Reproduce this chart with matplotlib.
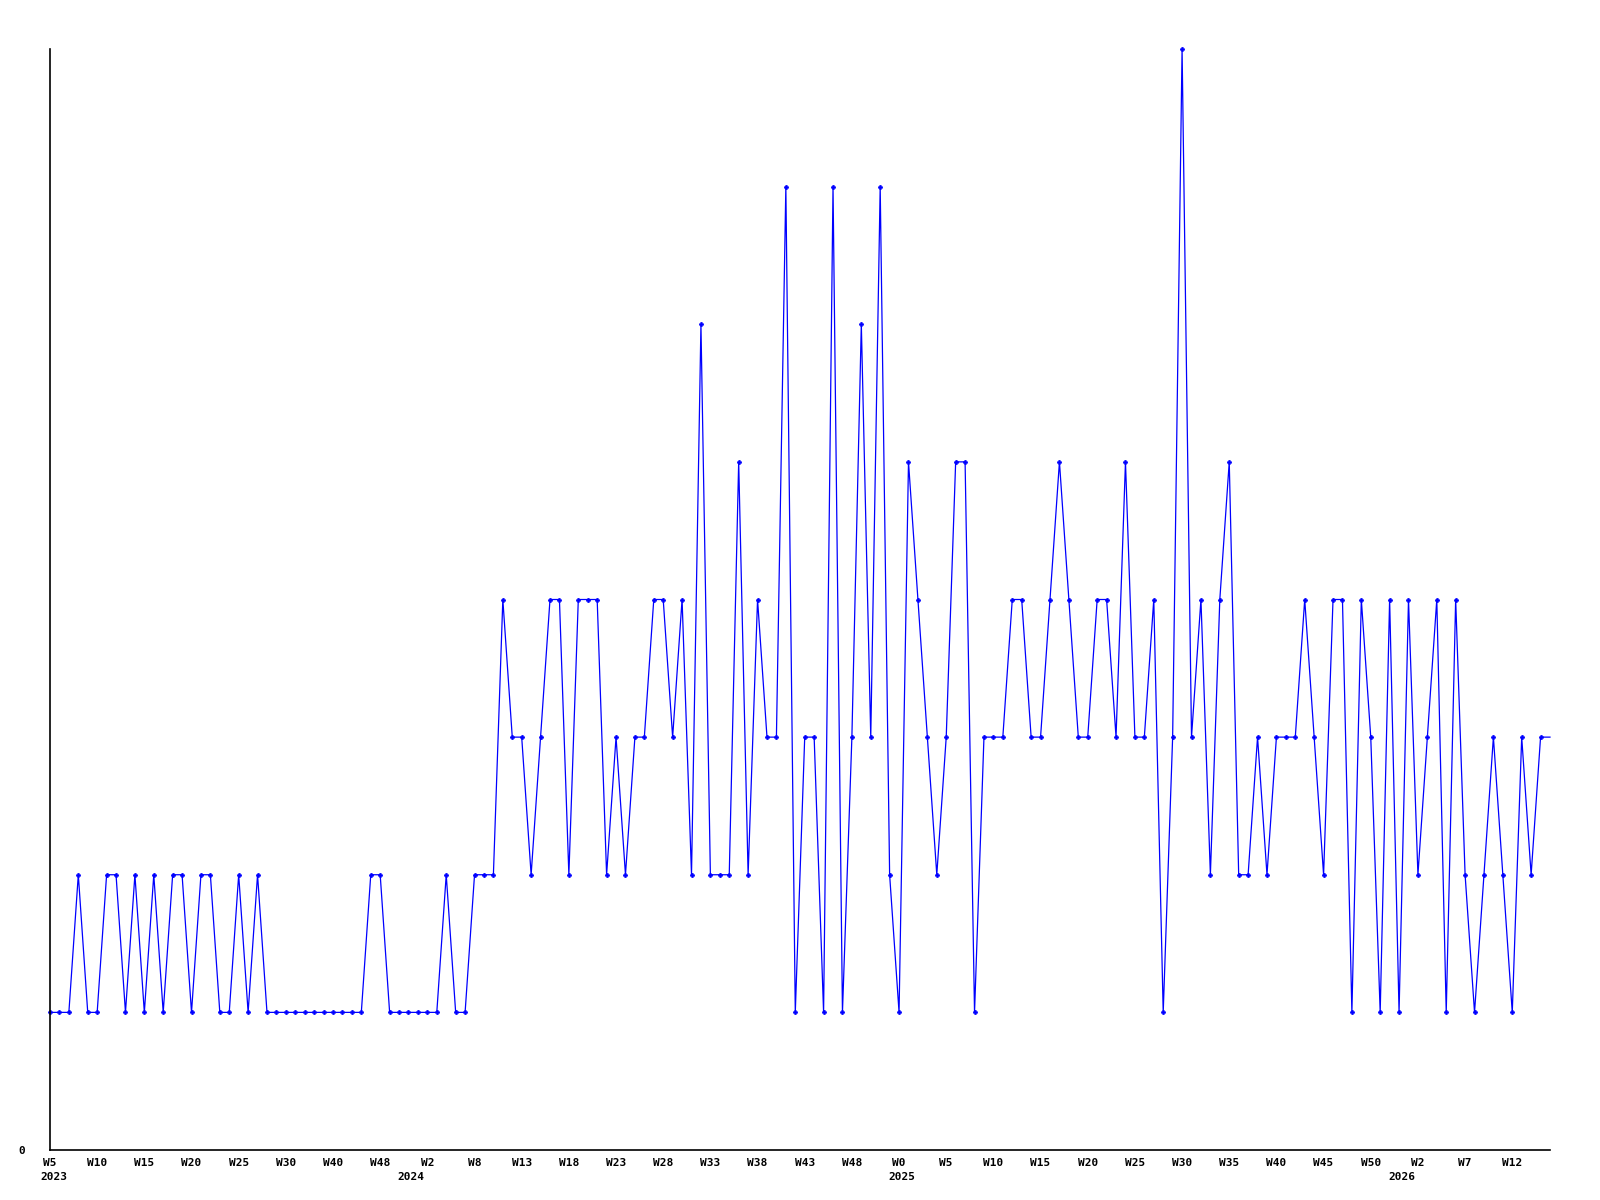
import matplotlib
matplotlib.use("Agg")
import matplotlib.pyplot as plt
import matplotlib.transforms as mtransforms
import numpy as np

# ---- data ----
values = [1, 1, 1, 2, 1, 1, 2, 2, 1, 2,
          1, 2, 1, 2, 2, 1, 2, 2, 1, 1,
          2, 1, 2, 1, 1, 1, 1, 1, 1, 1,
          1, 1, 1, 1, 2, 2, 1, 1, 1, 1,
          1, 1, 2, 1, 1, 2, 2, 2, 4, 3,
          3, 2, 3, 4, 4, 2, 4, 4, 4, 2,
          3, 2, 3, 3, 4, 4, 3, 4, 2, 6,
          2, 2, 2, 5, 2, 4, 3, 3, 7, 1,
          3, 3, 1, 7, 1, 3, 6, 3, 7, 2,
          1, 5, 4, 3, 2, 3, 5, 5, 1, 3,
          3, 3, 4, 4, 3, 3, 4, 5, 4, 3,
          3, 4, 4, 3, 5, 3, 3, 4, 1, 3,
          8, 3, 4, 2, 4, 5, 2, 2, 3, 2,
          3, 3, 3, 4, 3, 2, 4, 4, 1, 4,
          3, 1, 4, 1, 4, 2, 3, 4, 1, 4,
          2, 1, 2, 3, 2, 1, 3, 2, 3, 3]

week_labels = ["W5", "W10", "W15", "W20", "W25", "W30", "W40", "W48", "W2", "W8",
               "W13", "W18", "W23", "W28", "W33", "W38", "W43", "W48", "W0", "W5",
               "W10", "W15", "W20", "W25", "W30", "W35", "W40", "W45", "W50", "W2",
               "W7", "W12"]
label_step = 5

years = ["2023", "2024", "2025", "2026"]
year_pos = [-1.06, 38.3, 90.3, 143.3]
year_ha = ["left", "center", "center", "center"]

# ---- plot ----
font = {"family": "DejaVu Sans Mono", "weight": "bold", "size": 8}
plt.rcParams["font.family"] = "DejaVu Sans Mono"

fig = plt.figure(figsize=(16, 12), dpi=100)
ax = fig.add_axes([50 / 1600, 1 - 1150 / 1200, 1500 / 1600, 1101 / 1200])

x = np.arange(len(values))
ax.plot(x, values, color="#0000ff", linewidth=0.9, clip_on=False)
ax.plot(x[:-1], values[:-1], linestyle="none", marker="P", markersize=3,
        markeredgewidth=0.5, color="#0000ff", clip_on=False)

ax.set_xlim(0, len(values) - 1)
ax.set_ylim(0, 8)

for s in ["top", "right"]:
    ax.spines[s].set_visible(False)
for s in ["left", "bottom"]:
    ax.spines[s].set_color("black")
    ax.spines[s].set_linewidth(1.2)

ticks = np.arange(0, len(week_labels) * label_step, label_step)
ax.set_xticks(ticks)
ax.set_xticklabels(week_labels, fontdict=font)
ax.tick_params(axis="x", length=0, pad=6)

ax.set_yticks([0])
ax.set_yticklabels(["0"], fontdict=font)
ax.tick_params(axis="y", length=0, pad=18)

trans = mtransforms.blended_transform_factory(ax.transData, fig.transFigure)
for yr, xp, ha in zip(years, year_pos, year_ha):
    ax.text(xp, 1 - 1177 / 1200, yr, transform=trans,
            ha=ha, va="center", fontdict=font)

fig.savefig("out.png", dpi=100, facecolor="white")
